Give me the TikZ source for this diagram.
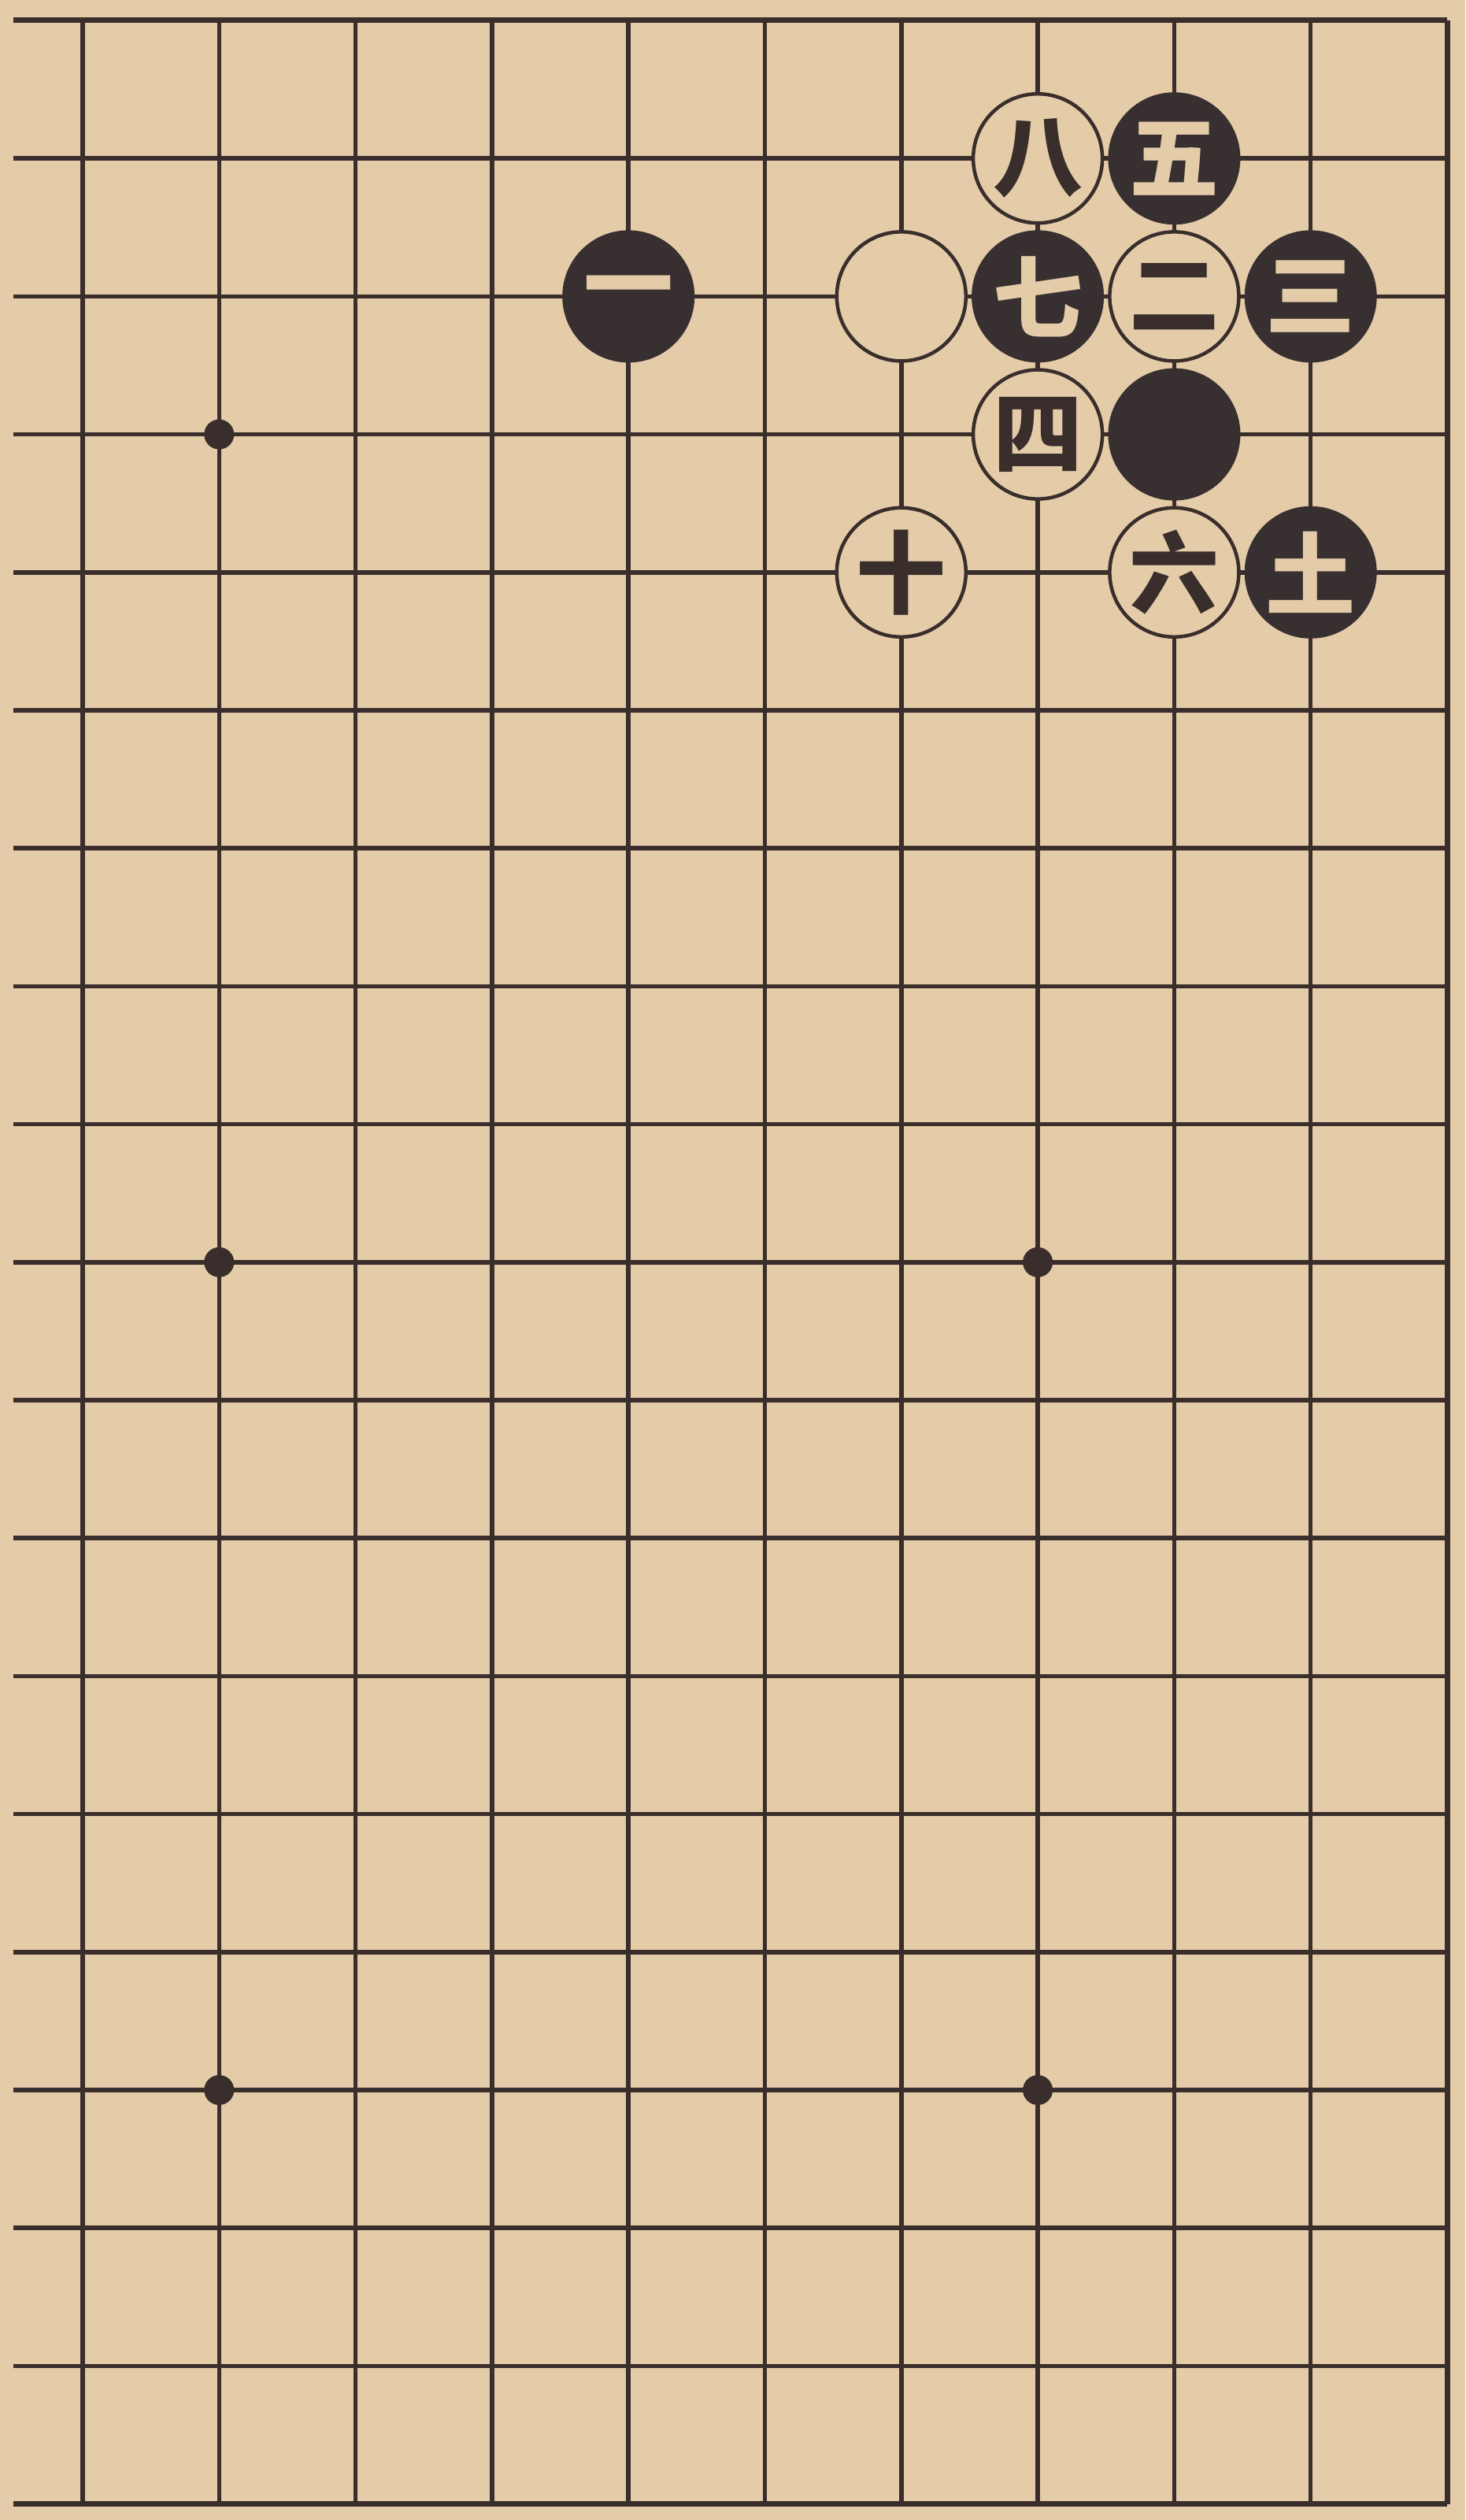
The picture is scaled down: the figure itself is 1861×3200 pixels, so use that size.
\documentclass[tikz,border=0pt]{standalone}
\usepackage{fontspec}
\newfontfamily\cjk{Noto Sans CJK SC}
\definecolor{paper}{RGB}{228,204,168}
\definecolor{ink}{RGB}{58,46,44}
\definecolor{stoneblk}{RGB}{56,47,49}
\begin{document}
\begin{tikzpicture}[x=173.3pt,y=-175.2pt,
  gridline/.style={draw=ink,line width=5.5pt},
  edgeline/.style={draw=ink,line width=7pt},
  blackstone/.style={circle,minimum size=168pt,inner sep=0pt,fill=stoneblk,text=paper,font=\cjk\bfseries\fontsize{114}{114}\selectfont},
  whitestone/.style={circle,minimum size=164pt,inner sep=0pt,fill=paper,draw=ink,line width=4.5pt,text=ink,font=\cjk\bfseries\fontsize{114}{114}\selectfont},
  hoshi/.style={circle,minimum size=38pt,inner sep=0pt,fill=ink}]
\fill[paper] (-105pt,26pt) rectangle (1756pt,-3174pt);
\useasboundingbox (-105pt,26pt) rectangle (1756pt,-3174pt);
% horizontal lines
\foreach \r in {1,...,17}{\draw[gridline] (-0.51,\r) -- (10,\r);}
\draw[edgeline] (-0.51,0) -- (10,0);
\draw[edgeline] (-0.51,18) -- (10,18);
% vertical lines
\foreach \c in {0,...,9}{\draw[gridline] (\c,0) -- (\c,18);}
\draw[edgeline] (10,0) -- (10,18);
% star points
\node[hoshi] (h1) at (1,3) {};
\node[hoshi] (h2) at (1,9) {};
\node[hoshi] (h3) at (7,9) {};
\node[hoshi] (h4) at (1,15) {};
\node[hoshi] (h5) at (7,15) {};
% stones
\node[blackstone] (s1) at (4,2) {一};
\node[whitestone] (w0) at (6,2) {};
\node[whitestone] (s8) at (7,1) {八};
\node[blackstone] (s5) at (8,1) {五};
\node[blackstone] (s7) at (7,2) {七};
\node[whitestone] (s2) at (8,2) {二};
\node[blackstone] (s3) at (9,2) {三};
\node[whitestone] (s4) at (7,3) {四};
\node[blackstone] (b0) at (8,3) {};
\node[whitestone] (s10) at (6,4) {十};
\node[whitestone] (s6) at (8,4) {六};
\node[blackstone] (s9) at (9,4) {土};
\end{tikzpicture}
\end{document}
